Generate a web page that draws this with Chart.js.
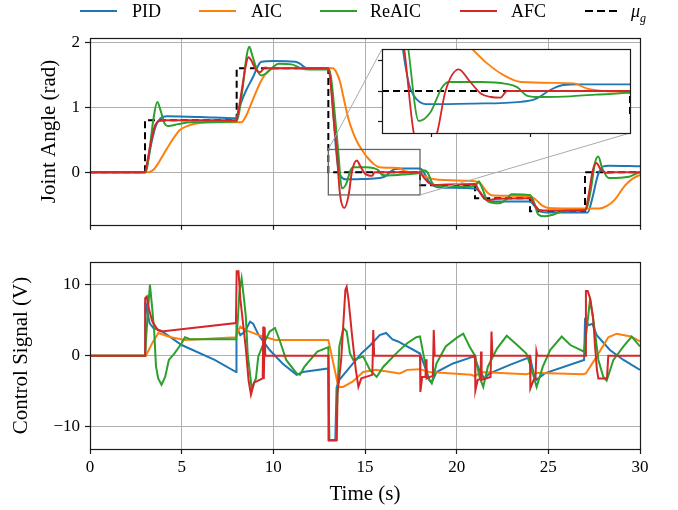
<!DOCTYPE html>
<html><head><meta charset="utf-8">
<script src="https://cdn.jsdelivr.net/npm/chart.js@4"></script>
<style>
html,body{margin:0;padding:0;background:#fff;}
#wrap{position:relative;width:678px;height:510px;overflow:hidden;font-family:"Liberation Serif",serif;}
canvas{position:absolute;}
.sw{position:absolute;height:2px;top:10px;}
.lt{position:absolute;top:1px;font-size:18px;line-height:20px;color:#000;white-space:nowrap;}
</style></head><body>
<div id="wrap">
<canvas id="topChart" width="678" height="240" style="left:0;top:0"></canvas>
<canvas id="botChart" width="678" height="270" style="left:0;top:240px"></canvas>
<canvas id="insetChart" width="258" height="94" style="left:376px;top:45px"></canvas>
<div id="legend"></div>
</div>
<script>
// ---------- data ----------
const timeTicks = [0,5,10,15,20,25,30];
const angleTicks = [0,1,2];
const ctrlTicks = [-10,0,10];
const insetXTicks = [14,16];
const insetYTicks = [-0.25,0,0.25];
const insetXRange = [13,18];
const insetYRange = [-0.35,0.35];

const refTimes = [0,3,8,13,18,21,24,27,30];
const refAngle = [0,0.8,1.6,0,-0.2,-0.4,-0.6,0,0];

const pidAngle = [[0,0],[3.0,0],[3.15,0.15],[3.35,0.45],[3.6,0.72],[3.85,0.83],[4.2,0.86],[6,0.85],[7.98,0.83],[8.1,0.95],[8.25,1.08],[8.5,1.25],[8.9,1.47],[9.15,1.63],[9.35,1.7],[10,1.71],[11.2,1.7],[11.45,1.67],[11.75,1.61],[12.2,1.6],[13.0,1.6],[13.1,1.5],[13.25,1.0],[13.42,0.35],[13.55,0.05],[13.7,-0.07],[13.95,-0.11],[14.8,-0.105],[15.8,-0.09],[16.1,-0.065],[16.4,0.01],[16.65,0.05],[17,0.055],[18,0.055],[18.2,0.0],[18.5,-0.15],[18.8,-0.22],[19.2,-0.24],[21,-0.25],[21.25,-0.3],[21.55,-0.41],[21.9,-0.45],[24,-0.45],[24.25,-0.52],[24.55,-0.6],[24.9,-0.62],[27.15,-0.62],[27.4,-0.4],[27.7,-0.05],[28.0,0.09],[28.3,0.1],[30,0.09]];
const aicAngle = [[0,0],[3.2,0],[3.5,0.05],[3.75,0.15],[4.0,0.27],[4.5,0.5],[4.9,0.65],[5.3,0.71],[5.8,0.75],[7,0.77],[8.25,0.77],[8.5,0.86],[8.9,1.13],[9.36,1.42],[9.7,1.55],[10.1,1.6],[13.25,1.6],[13.45,1.53],[13.64,1.39],[13.82,1.16],[14.1,0.82],[14.36,0.6],[14.6,0.45],[14.82,0.35],[15.12,0.23],[15.46,0.13],[15.8,0.075],[16.47,0.068],[16.87,0.063],[17.14,0.02],[17.48,0.0],[18.0,-0.02],[18.4,-0.08],[18.8,-0.11],[20.5,-0.13],[21.0,-0.14],[21.3,-0.18],[21.7,-0.32],[22.0,-0.36],[24.0,-0.37],[24.3,-0.42],[24.7,-0.52],[25,-0.55],[27.8,-0.56],[28.2,-0.52],[28.6,-0.43],[29.2,-0.2],[29.6,-0.1],[30,-0.04]];
const reaicAngle = [[0,0],[3.05,0],[3.25,0.35],[3.45,0.8],[3.67,1.08],[3.85,0.95],[4.05,0.76],[4.27,0.71],[4.8,0.74],[5.5,0.77],[7.98,0.78],[8.12,0.9],[8.35,1.35],[8.55,1.8],[8.69,1.93],[8.85,1.8],[9.1,1.58],[9.36,1.49],[9.6,1.52],[9.9,1.6],[10.3,1.67],[11.0,1.66],[11.5,1.6],[12,1.58],[13.0,1.58],[13.15,1.45],[13.35,0.9],[13.53,0.35],[13.74,-0.25],[13.98,-0.175],[14.21,0.03],[14.35,0.075],[15.0,0.075],[15.5,0.06],[15.73,0.03],[15.93,-0.04],[16.2,-0.05],[16.8,-0.045],[17.3,-0.03],[18.0,-0.01],[18.2,0.03],[18.4,0.0],[18.7,-0.18],[19.0,-0.22],[20.7,-0.22],[21.05,-0.2],[21.2,-0.14],[21.4,-0.25],[21.7,-0.45],[22.3,-0.48],[22.7,-0.42],[23.0,-0.34],[24.0,-0.35],[24.2,-0.45],[24.45,-0.65],[24.8,-0.68],[25.3,-0.65],[26,-0.59],[27.05,-0.58],[27.3,-0.3],[27.55,0.15],[27.72,0.24],[27.95,0.05],[28.3,-0.09],[29.4,-0.07],[29.8,-0.02],[30,0.0]];
const afcAngle = [[0,0],[3.0,0],[3.15,0.2],[3.35,0.5],[3.55,0.72],[3.8,0.79],[4.2,0.8],[7.98,0.8],[8.1,0.95],[8.3,1.3],[8.5,1.65],[8.64,1.77],[8.8,1.72],[9.0,1.6],[9.27,1.54],[9.55,1.61],[9.8,1.6],[13.0,1.6],[13.1,1.45],[13.28,0.85],[13.45,0.35],[13.64,-0.35],[13.87,-0.55],[14.11,-0.35],[14.28,0.0],[14.55,0.18],[14.75,0.09],[14.99,-0.02],[15.2,-0.05],[15.39,-0.055],[15.52,0.0],[18.0,0.0],[18.2,-0.08],[18.5,-0.17],[18.75,-0.2],[19.5,-0.19],[21.0,-0.18],[21.2,-0.28],[21.5,-0.4],[21.7,-0.43],[22.2,-0.41],[24.0,-0.4],[24.2,-0.48],[24.5,-0.58],[25,-0.59],[27.0,-0.59],[27.2,-0.35],[27.42,0.02],[27.62,0.14],[27.85,0.05],[28.2,-0.01],[28.6,0.0],[30,0.0]];

const pidCtrl = [[0,0],[3.0,0],[3.02,7.6],[3.25,4.6],[3.45,3.9],[3.9,3.5],[5.0,1.5],[6.8,-0.6],[7.97,-2.3],[7.99,4.1],[8.2,2.9],[8.45,3.4],[8.73,4.8],[8.9,4.5],[9.2,2.9],[9.8,0.8],[10.5,-1.1],[11.27,-2.7],[11.6,-2.3],[13.0,-1.8],[13.05,-11.9],[13.38,-11.9],[13.45,-4.5],[13.6,-3.4],[14.2,-1.55],[14.8,0.3],[15.3,1.5],[15.8,2.9],[16.15,3.2],[16.5,2.3],[16.8,2.0],[18.0,0.3],[18.3,-1.8],[18.5,-3.4],[18.65,-3.7],[18.9,-2.3],[19.8,-1.1],[20.95,-0.1],[21.2,-1.8],[21.5,-3.2],[21.8,-2.5],[22.9,-1.3],[24.0,-0.2],[24.2,-2.5],[24.35,-3.4],[24.8,-2.5],[26.95,-0.6],[27.0,5.0],[27.2,4.3],[27.4,4.5],[27.64,2.9],[28.36,0.8],[29.1,-0.6],[30,-2.0]];
const aicCtrl = [[0,0],[3.05,0],[3.4,1.8],[3.73,3.2],[4.4,2.6],[5.2,2.2],[7.97,2.6],[8.1,3.6],[8.2,4.1],[8.5,3.6],[9.2,2.9],[10.1,2.2],[13.0,2.2],[13.55,-4.4],[13.8,-4.4],[14.3,-3.7],[14.9,-2.3],[15.6,-2.0],[16.9,-2.5],[17.3,-2.0],[18.0,-1.9],[18.5,-2.3],[20.8,-2.7],[21.0,-2.9],[21.3,-2.3],[23.8,-2.6],[24.1,-2.4],[26.9,-2.6],[27.05,-2.5],[27.64,-0.1],[28.27,2.6],[28.73,3.1],[29.5,2.7],[30,2.0]];
const reaicCtrl = [[0,0],[3.0,0],[3.15,6],[3.27,10.0],[3.4,6.5],[3.5,3.5],[3.6,-1.5],[3.72,-3.2],[3.9,-4.1],[4.1,-3.0],[4.3,-0.6],[4.6,0.3],[5.0,1.75],[5.18,2.6],[5.5,2.3],[7.97,2.3],[8.05,4.5],[8.15,9],[8.27,10.9],[8.4,8],[8.5,5.5],[8.6,0.3],[8.82,-4.6],[9.05,-3.2],[9.18,-0.1],[9.4,1.3],[9.8,3.4],[10.09,3.9],[10.4,1.75],[10.7,-0.6],[11.27,-2.5],[11.45,-2.7],[11.7,-1.55],[12.4,0.57],[13.0,1.2],[13.05,-11.9],[13.42,-11.9],[13.5,-5],[13.6,1.3],[13.82,3.9],[14.0,3.4],[14.18,0.3],[14.36,-0.6],[14.9,-0.1],[15.27,-2.0],[15.64,-3.0],[16.0,-1.55],[16.8,0.57],[17.3,1.75],[17.8,2.6],[18.0,2.7],[18.2,0.0],[18.45,-3.2],[18.64,-3.9],[18.9,-1.1],[19.4,1.3],[20.0,2.5],[20.36,3.1],[20.7,1.3],[21.0,0.0],[21.25,-3.0],[21.45,-4.4],[21.7,-1.55],[22.2,1.0],[22.73,2.8],[23.3,1.5],[23.8,0.3],[24.1,-2.0],[24.36,-4.4],[24.7,-1.55],[25.1,0.8],[25.73,2.7],[26.2,1.5],[26.95,0.57],[27.15,5],[27.27,7.8],[27.4,6],[27.55,3.2],[27.73,-0.6],[28.0,-3.0],[28.18,-3.5],[28.55,-0.6],[29.1,1.3],[29.55,2.7],[30,1.3]];
const afcCtrl = [[0,0],[3.0,0],[3.01,8.1],[3.1,8.35],[3.2,6.7],[3.4,4.8],[3.7,3.6],[3.9,3.4],[7.96,4.6],[8.0,11.9],[8.1,11.9],[8.2,8],[8.35,4.5],[8.5,1],[8.65,-3.5],[8.78,-5.5],[8.95,-3.8],[9.42,-3.2],[9.45,4.1],[9.48,-3.3],[9.53,4.0],[9.56,0],[13.0,0],[13.01,-11.9],[13.46,-11.9],[13.5,-5.3],[13.7,-0.6],[13.93,9.3],[14.0,9.7],[14.1,7.9],[14.3,2.7],[14.5,-2.0],[14.64,-4.4],[14.8,-3.2],[15.4,-2.7],[15.45,3.6],[15.5,0],[18.0,0],[18.02,-5.1],[18.12,-3.0],[18.3,-3.0],[18.33,-0.5],[18.36,-3.2],[18.7,-2.8],[18.75,3.6],[18.8,0],[21.0,0],[21.02,-4.9],[21.15,-3.4],[21.3,-3.3],[21.33,0.6],[21.36,-3.4],[21.85,-3.0],[21.9,3.4],[21.95,0],[24.0,0],[24.02,-4.6],[24.2,-3.4],[24.3,-3.2],[24.35,0.6],[24.4,0],[27.0,0],[27.05,9.1],[27.15,9.1],[27.3,7.9],[27.45,5.1],[27.55,1.3],[27.65,-2.0],[27.73,-3.2],[28.2,-3.2],[28.27,0],[30,0]];

const seriesNames = ['PID','AIC','ReAIC','AFC'];
const seriesColors = ['#1f77b4','#ff7f0e','#2ca02c','#d62728'];

// ---------- helpers ----------
Chart.defaults.font.family = "'Liberation Serif', serif";
Chart.defaults.color = '#000';
const pts = arr => arr.map(p => ({x:p[0], y:p[1]}));
const fmt = v => String(v).replace('-', '\u2212');
const FRAME = '#1a1a1a';

const framePlugin = {id:'frame', afterDraw(chart){
  const a = chart.chartArea, c = chart.ctx;
  c.save(); c.strokeStyle = FRAME; c.lineWidth = 1.2;
  c.strokeRect(Math.round(a.left)+0.5, Math.round(a.top)+0.5, Math.round(a.right-a.left), Math.round(a.bottom-a.top));
  c.restore();
}};

function lineSets(dataArr, width, smooth){
  return dataArr.map((d,i) => ({
    label: seriesNames[i], data: pts(d), borderColor: seriesColors[i], borderWidth: width,
    pointRadius: 0, fill:false, cubicInterpolationMode: smooth ? 'monotone' : 'default', tension: 0,
    order: 4 - i
  }));
}
function refSet(width){
  return {label:'mu_g', data: refTimes.map((t,i)=>({x:t,y:refAngle[i]})), borderColor:'#000', borderWidth: width,
    borderDash:[7,4], stepped:true, pointRadius:0, fill:false, order: 10};
}
function xScale(showLabels){
  return {type:'linear', min:0, max:30,
    afterBuildTicks: sc => { sc.ticks = timeTicks.map(v=>({value:v})); },
    ticks:{display:showLabels, font:{size:17}, padding:3, maxRotation:0, callback: v => fmt(v)},
    grid:{color:'#b0b0b0', lineWidth:1, tickLength:5, tickColor:FRAME, tickWidth:1.2},
    border:{display:false}};
}
function yScale(min, max, ticks, title, titleShift){
  return {type:'linear', min:min, max:max,
    afterBuildTicks: sc => { sc.ticks = ticks.map(v=>({value:v})); },
    afterFit: sc => { sc.width = 90; },
    ticks:{font:{size:17}, padding:5, callback: v => fmt(v)},
    grid:{color:'#b0b0b0', lineWidth:1, tickLength:5, tickColor:FRAME, tickWidth:1.2},
    border:{display:false},
    title:{display:true, text:title, font:{size:21}, padding:{top:titleShift, bottom:0}}};
}

// ---------- top chart ----------
const insetBox = {left:382, top:49, right:630, bottom:133};
const indicator = {id:'indicator', afterDatasetsDraw(chart){
  const xs = chart.scales.x, ys = chart.scales.y, c = chart.ctx;
  const x0 = xs.getPixelForValue(insetXRange[0]), x1 = xs.getPixelForValue(insetXRange[1]);
  const y0 = ys.getPixelForValue(insetYRange[1]), y1 = ys.getPixelForValue(insetYRange[0]);
  c.save();
  c.strokeStyle = '#666'; c.lineWidth = 1.3;
  c.strokeRect(x0, y0, x1-x0, y1-y0);
  c.strokeStyle = '#aaa'; c.lineWidth = 1;
  c.beginPath(); c.moveTo(x0, y0); c.lineTo(insetBox.left, insetBox.top);
  c.moveTo(x1, y1); c.lineTo(insetBox.right, insetBox.bottom); c.stroke();
  c.restore();
}};

const topX = xScale(false); topX.afterFit = sc => { sc.height = 15; };
new Chart(document.getElementById('topChart'), {
  type:'line',
  data:{datasets:[...lineSets([pidAngle,aicAngle,reaicAngle,afcAngle], 2, true), refSet(2)]},
  options:{responsive:false, animation:false, events:[],
    layout:{autoPadding:false, padding:{left:0, top:38, right:38, bottom:0}},
    plugins:{legend:{display:false}, tooltip:{enabled:false}},
    scales:{x: topX, y: yScale(-0.81, 2.066, angleTicks, 'Joint Angle (rad)', 37)}},
  plugins:[indicator, framePlugin]
});

// ---------- bottom chart ----------
const botX = xScale(true);
botX.afterFit = sc => { sc.height = 61; };
botX.title = {display:true, text:'Time (s)', font:{size:21}, padding:{top:0, bottom:3}};
new Chart(document.getElementById('botChart'), {
  type:'line',
  data:{datasets: lineSets([pidCtrl,aicCtrl,reaicCtrl,afcCtrl], 2, false)},
  options:{responsive:false, animation:false, events:[],
    layout:{autoPadding:false, padding:{left:0, top:22, right:38, bottom:0}},
    plugins:{legend:{display:false}, tooltip:{enabled:false}},
    scales:{x: botX, y: yScale(-13.15, 13.2, ctrlTicks, 'Control Signal (V)', 9)}},
  plugins:[framePlugin]
});

// ---------- inset ----------
const insetBg = {id:'insetBg', beforeDraw(chart){
  const a = chart.chartArea, c = chart.ctx; c.save(); c.fillStyle = '#fff';
  c.fillRect(a.left, a.top, a.right-a.left, a.bottom-a.top); c.restore();
}};
new Chart(document.getElementById('insetChart'), {
  type:'line',
  data:{datasets:[...lineSets([pidAngle,aicAngle,reaicAngle,afcAngle], 1.8, true), refSet(2)]},
  options:{responsive:false, animation:false, events:[],
    layout:{autoPadding:false, padding:{left:0, top:4, right:4, bottom:0}},
    plugins:{legend:{display:false}, tooltip:{enabled:false}},
    scales:{
      x:{type:'linear', min:insetXRange[0], max:insetXRange[1],
        afterBuildTicks: sc => { sc.ticks = insetXTicks.map(v=>({value:v})); },
        afterFit: sc => { sc.height = 6; },
        ticks:{display:false}, border:{display:false},
        grid:{drawOnChartArea:false, tickLength:4, tickColor:FRAME, tickWidth:1.2}},
      y:{type:'linear', min:insetYRange[0], max:insetYRange[1],
        afterBuildTicks: sc => { sc.ticks = insetYTicks.map(v=>({value:v})); },
        afterFit: sc => { sc.width = 6; },
        ticks:{display:false}, border:{display:false},
        grid:{drawOnChartArea:false, tickLength:4, tickColor:FRAME, tickWidth:1.2}}
    }},
  plugins:[insetBg, framePlugin]
});

// ---------- legend ----------
const legendSwatchX = [80,199,320,460,585];
const legendTextX = [132,251,370,511,631];
const legend = document.getElementById('legend');
seriesNames.forEach((n,i) => {
  const s = document.createElement('div'); s.className='sw';
  s.style.left = legendSwatchX[i]+'px'; s.style.width='37px'; s.style.background = seriesColors[i];
  legend.appendChild(s);
  const t = document.createElement('div'); t.className='lt'; t.style.left = legendTextX[i]+'px'; t.textContent = n;
  legend.appendChild(t);
});
const ds = document.createElement('div'); ds.className='sw';
ds.style.left = legendSwatchX[4]+'px'; ds.style.width='32px';
ds.style.background = 'repeating-linear-gradient(to right,#000 0 8px,transparent 8px 12px)';
legend.appendChild(ds);
const dt = document.createElement('div'); dt.className='lt'; dt.style.left = legendTextX[4]+'px';
dt.innerHTML = '<i>\u03bc<sub style="font-size:12px">g</sub></i>';
legend.appendChild(dt);
</script>
</body></html>
